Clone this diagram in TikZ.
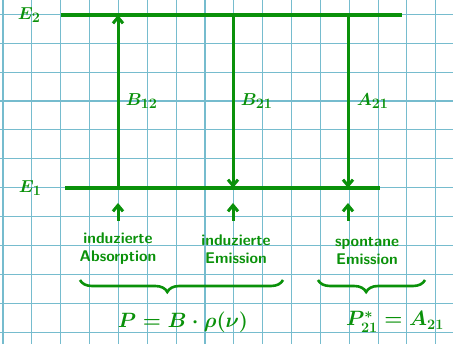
\documentclass[tikz,border=0pt]{standalone}
\usepackage{tikz}
\usetikzlibrary{arrows.meta, positioning, decorations.pathreplacing}
\definecolor{pen}{RGB}{10,145,10}
\definecolor{gridblue}{RGB}{118,188,206}

\begin{document}
\begin{tikzpicture}[
    x=1pt, y=-1pt,
    node distance=0.5cm and 0.6cm,
    gridline/.style={draw=gridblue, line width=1.1pt},
    level/.style={draw=pen, line width=3.2pt},
    arrow/.style={-{Straight Barb[length=6pt, width=10pt]}, draw=pen, line width=3pt},
    lbl/.style={text=pen, font=\boldmath\fontsize{19}{19}\selectfont},
    txt/.style={text=pen, align=center, inner sep=1pt, font=\sffamily\bfseries\fontsize{15.5}{18}\selectfont},
    brace/.style={draw=pen, line width=2.6pt, decorate, decoration={brace, mirror, amplitude=12pt, aspect=#1}}
]
    \useasboundingbox (0,0) rectangle (453,344);
    % squared paper
    \foreach \i in {0,...,15}
        \draw[gridline] (3+28.85*\i,0) -- ++(0,344);
    \foreach \j in {0,...,11}
        \draw[gridline] (0,14.3+28.9*\j) -- ++(453,0);

    % energy levels
    \coordinate (e2l) at (61,15);
    \coordinate (e2r) at (402,15);
    \coordinate (e1l) at (65,188);
    \coordinate (e1r) at (380,188);
    \draw[level] (e2l) -- (e2r);
    \draw[level] (e1l) -- (e1r);
    \node[lbl, left=0.6cm of e2l] (E2) {$E_2$};
    \node[lbl, left=0.7cm of e1l] (E1) {$E_1$};

    % transitions
    \coordinate (u1) at (118,15);  \coordinate (d1) at (118,188);
    \coordinate (u2) at (233,15);  \coordinate (d2) at (233,188);
    \coordinate (u3) at (348,15);  \coordinate (d3) at (348,188);
    \draw[arrow] (d1) -- (u1) node[lbl, midway, right=3pt] (b12) {$B_{12}$};
    \draw[arrow] (u2) -- (d2) node[lbl, midway, right=3pt] (b21) {$B_{21}$};
    \draw[arrow] (u3) -- (d3) node[lbl, midway, right=4pt] (a21) {$A_{21}$};

    % processes
    \coordinate (p1) at (118,203);  \coordinate (q1) at (118,221);
    \coordinate (p2) at (233,203);  \coordinate (q2) at (233,221);
    \coordinate (p3) at (348,203);  \coordinate (q3) at (348,221);
    \draw[arrow] (q1) -- (p1);
    \draw[arrow] (q2) -- (p2);
    \draw[arrow] (q3) -- (p3);
    \node[txt] (abs) at (118,249) {induzierte\\Absorption};
    \node[txt] (emi) at (236,249) {induzierte\\Emission};
    \node[txt] (spo) at (367,251) {spontane\\Emission};

    % braces and rates
    \coordinate (b1l) at (80,280);  \coordinate (b1r) at (283,280);
    \coordinate (b2l) at (318,280); \coordinate (b2r) at (425,280);
    \draw[brace=0.43] (b1l) -- (b1r);
    \draw[brace=0.45] (b2l) -- (b2r);
    \node[lbl, font=\boldmath\fontsize{22}{22}\selectfont] (rate) at (183,322) {$P = B\cdot\rho(\nu)$};
    \node[lbl, font=\boldmath\fontsize{22}{22}\selectfont] (spont) at (395,322) {$P_{21}^{*} = A_{21}$};
\end{tikzpicture}
\end{document}
